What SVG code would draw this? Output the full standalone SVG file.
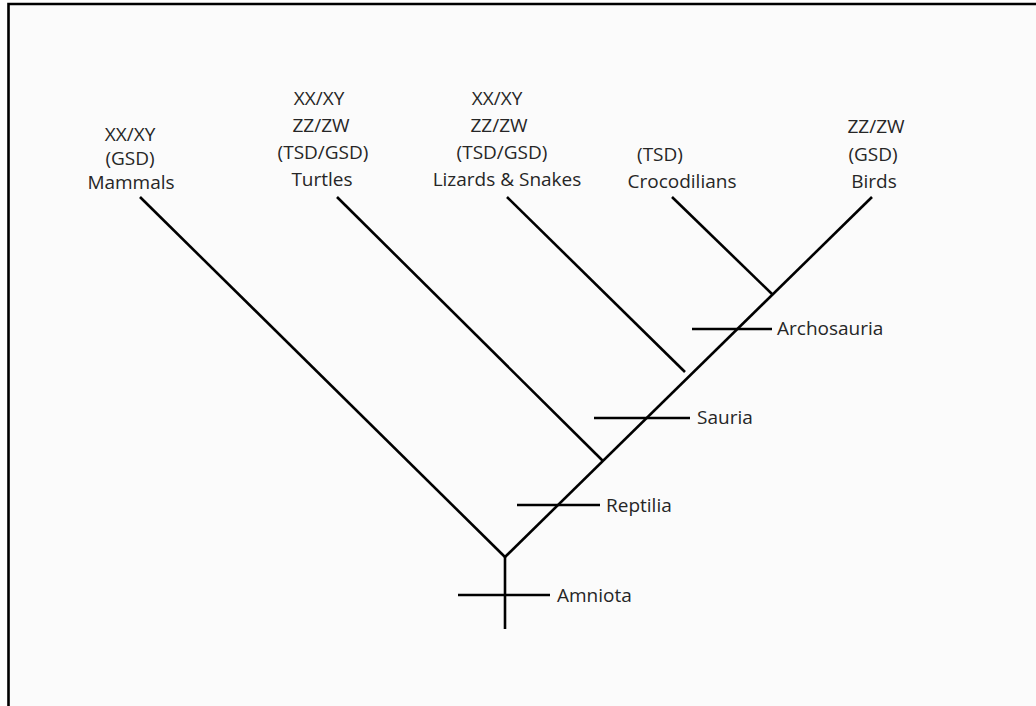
<svg xmlns="http://www.w3.org/2000/svg" width="1036" height="706" viewBox="0 0 1036 706">
<style>
.t{font-family:"Open Sans","Liberation Sans",sans-serif;font-size:19px;fill:#262626;text-anchor:middle}
.c{font-family:"Open Sans","Liberation Sans",sans-serif;font-size:19px;fill:#262626}
.ln{stroke:#000;stroke-width:2.6;fill:none;stroke-linecap:butt}
</style>
<rect x="0" y="0" width="1036" height="706" fill="#fff"/>
<rect x="8.5" y="4" width="1040" height="720" fill="#fbfbfb"/>
<path d="M8.5,706 V4 H1036" fill="none" stroke="#000" stroke-width="2.6"/>
<g id="connectors">
<line class="ln" x1="140" y1="197" x2="505" y2="557"/>
<line class="ln" x1="505" y1="557" x2="872" y2="197"/>
<line class="ln" x1="337" y1="197" x2="603" y2="461"/>
<line class="ln" x1="507" y1="197" x2="685" y2="372"/>
<line class="ln" x1="672" y1="197" x2="772" y2="294"/>
<line class="ln" x1="505" y1="557" x2="505" y2="629"/>
</g>
<g id="mammals">
<text class="t" x="130" y="141">XX/XY</text>
<text class="t" x="130" y="165">(GSD)</text>
<text class="t" x="131" y="189">Mammals</text>
</g>
<g id="turtles">
<text class="t" x="319" y="105">XX/XY</text>
<text class="t" x="321" y="132">ZZ/ZW</text>
<text class="t" x="323" y="159">(TSD/GSD)</text>
<text class="t" x="322" y="186">Turtles</text>
</g>
<g id="lizards-snakes">
<text class="t" x="497" y="105">XX/XY</text>
<text class="t" x="499" y="132">ZZ/ZW</text>
<text class="t" x="502" y="159">(TSD/GSD)</text>
<text class="t" x="507" y="186">Lizards &amp; Snakes</text>
</g>
<g id="crocodilians">
<text class="t" x="660" y="161">(TSD)</text>
<text class="t" x="682" y="188">Crocodilians</text>
</g>
<g id="birds">
<text class="t" x="876" y="133">ZZ/ZW</text>
<text class="t" x="873" y="161">(GSD)</text>
<text class="t" x="874" y="188">Birds</text>
</g>
<g id="archosauria">
<line class="ln" x1="692" y1="329" x2="772" y2="329"/>
<text class="c" x="777" y="335">Archosauria</text>
</g>
<g id="sauria">
<line class="ln" x1="594" y1="418" x2="690" y2="418"/>
<text class="c" x="697" y="424">Sauria</text>
</g>
<g id="reptilia">
<line class="ln" x1="517" y1="505" x2="600" y2="505"/>
<text class="c" x="606" y="512">Reptilia</text>
</g>
<g id="amniota">
<line class="ln" x1="458" y1="595" x2="550" y2="595"/>
<text class="c" x="557" y="602">Amniota</text>
</g>
</svg>
